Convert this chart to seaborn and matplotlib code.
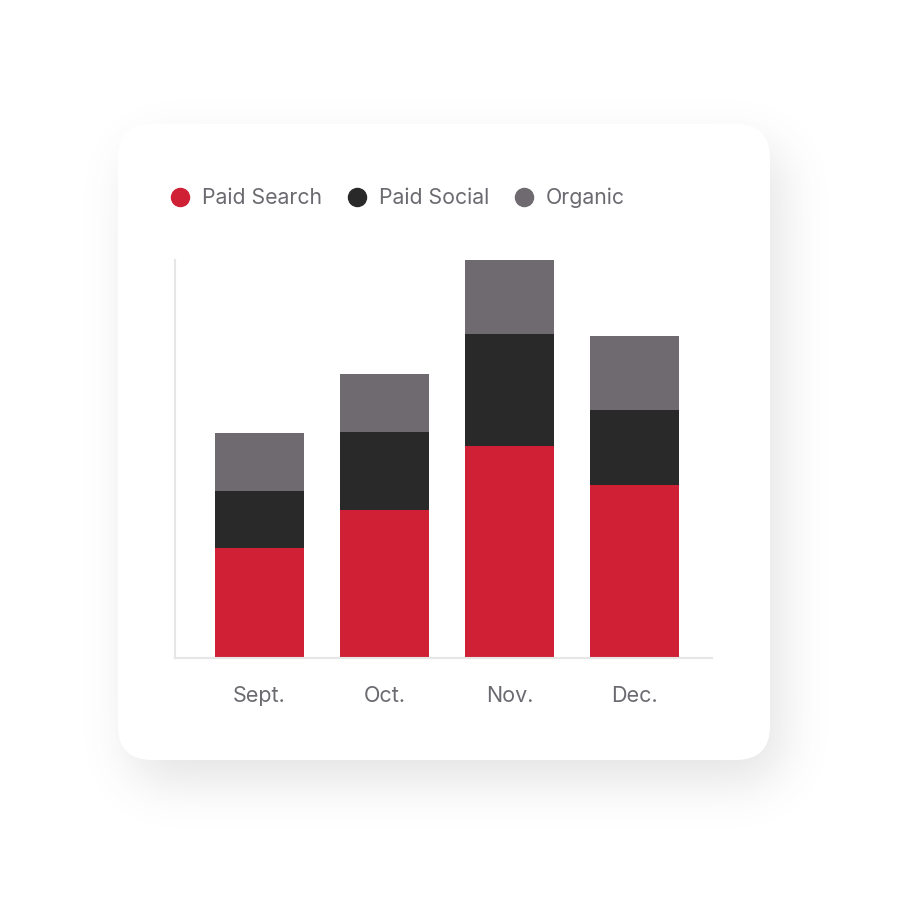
import numpy as np
import pandas as pd
import matplotlib.pyplot as plt
import seaborn as sns
from matplotlib.patches import FancyBboxPatch
from matplotlib.lines import Line2D

# ---------------- data ----------------
months = ["Sept.", "Oct.", "Nov.", "Dec."]
paid_search = [110, 148, 212, 173]
paid_social = [57, 78, 112, 75]
organic = [58, 58, 74, 74]

series_names = ["Paid Search", "Paid Social", "Organic"]
series_colors = ["#D02036", "#292929", "#6E6A6F"]
text_color = "#6B6A70"

df = pd.DataFrame({
    "month": months,
    "Paid Search": paid_search,
    "Paid Social": paid_social,
    "Organic": organic,
})
df["top_search"] = df["Paid Search"]
df["top_social"] = df["top_search"] + df["Paid Social"]
df["top_organic"] = df["top_social"] + df["Organic"]

sns.set_style("white")
plt.rcParams["font.family"] = ["Inter", "DejaVu Sans"]

fig = plt.figure(figsize=(9, 9), dpi=100)
fig.patch.set_facecolor("white")

# ---------------- card with soft shadow ----------------
W = H = 900
card_x0, card_x1, card_y0, card_y1, card_r = 118, 770, 124, 760, 34

def rounded_rect_mask(x0, x1, y0, y1, r):
    yy, xx = np.mgrid[0:H, 0:W] + 0.5
    cx, cy = (x0 + x1) / 2, (y0 + y1) / 2
    hx, hy = (x1 - x0) / 2 - r, (y1 - y0) / 2 - r
    qx = np.abs(xx - cx) - hx
    qy = np.abs(yy - cy) - hy
    d = np.hypot(np.maximum(qx, 0), np.maximum(qy, 0)) + np.minimum(np.maximum(qx, qy), 0) - r
    return (d <= 0).astype(float)

def blur(img, sigma):
    k = np.arange(-3 * sigma, 3 * sigma + 1)
    k = np.exp(-k ** 2 / (2 * sigma ** 2))
    k /= k.sum()
    img = np.apply_along_axis(lambda v: np.convolve(v, k, mode="same"), 0, img)
    img = np.apply_along_axis(lambda v: np.convolve(v, k, mode="same"), 1, img)
    return img

shadow = blur(rounded_rect_mask(card_x0 + 12, card_x1 + 12, card_y0 + 22, card_y1 + 22, card_r), 24)
rgba = np.zeros((H, W, 4))
rgba[..., :3] = 0.35
rgba[..., 3] = shadow * 0.16

bg = fig.add_axes([0, 0, 1, 1])
bg.imshow(rgba, extent=(0, W, H, 0), interpolation="bilinear")
bg.add_patch(FancyBboxPatch(
    (card_x0 + card_r, card_y0 + card_r),
    (card_x1 - card_x0) - 2 * card_r, (card_y1 - card_y0) - 2 * card_r,
    boxstyle=f"round,pad={card_r}", facecolor="white", edgecolor="none"))
bg.set_xlim(0, W)
bg.set_ylim(H, 0)
bg.axis("off")

# ---------------- stacked bars ----------------
ax = fig.add_axes([175 / 900, 242 / 900, 537 / 900, 398 / 900])
ax.set_facecolor("none")

bar_w = 0.712
for col, color in zip(["top_organic", "top_social", "top_search"], series_colors[::-1]):
    sns.barplot(data=df, x="month", y=col, color=color, saturation=1,
                width=bar_w, edgecolor="none", ax=ax)

ax.set_xlim(-0.676, 3.62)
ax.set_ylim(0, 398)
ax.set_xlabel("")
ax.set_ylabel("")
ax.set_yticks([])
ax.tick_params(axis="x", length=0, pad=20, labelsize=15.5, labelcolor=text_color)
for side in ["top", "right"]:
    ax.spines[side].set_visible(False)
for side in ["left", "bottom"]:
    ax.spines[side].set_color("#E6E6E6")
    ax.spines[side].set_linewidth(1.5)

# ---------------- legend ----------------
handles = [Line2D([], [], marker="o", linestyle="", markersize=13,
                  markerfacecolor=c, markeredgecolor=c) for c in series_colors]
fig.legend(handles, series_names, ncol=3, loc="center left",
           bbox_to_anchor=(169.4 / 900, 1 - 198 / 900),
           frameon=False, fontsize=15.3, labelcolor=text_color,
           handlelength=1.0, handletextpad=0.53, columnspacing=1.15,
           borderpad=0, borderaxespad=0)

fig.savefig("out.png", dpi=100, facecolor="white")
